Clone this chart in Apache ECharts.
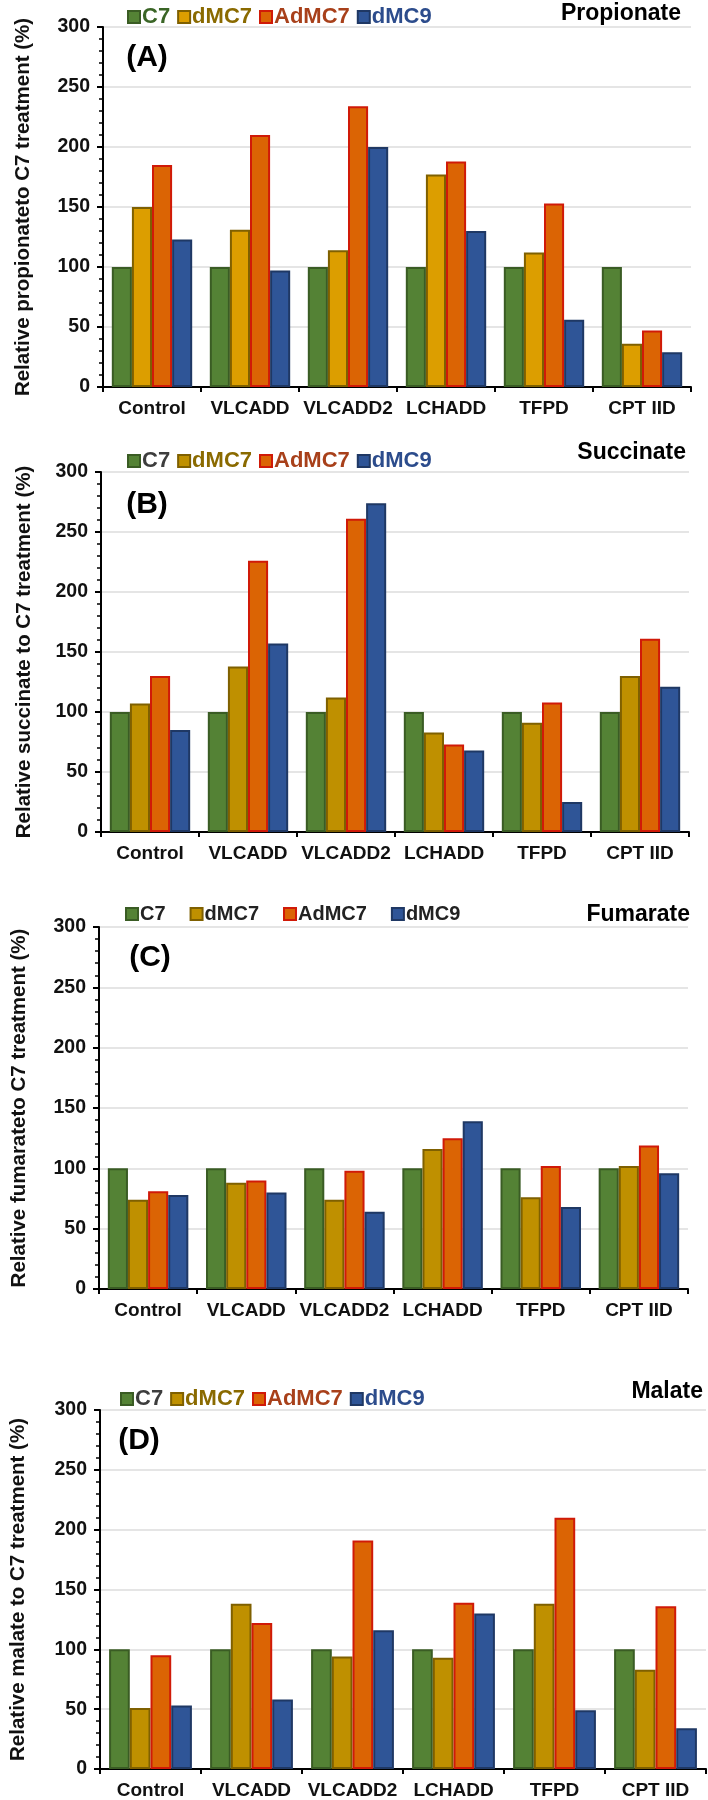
<!DOCTYPE html>
<html>
<head>
<meta charset="utf-8">
<script src="https://cdn.jsdelivr.net/npm/echarts@6/dist/echarts.min.js"></script>
<style>
html,body{margin:0;padding:0;background:#fff;}
#chart{width:708px;height:1800px;}
</style>
</head>
<body>
<div id="chart"></div>
<script>
// ---- data ----
const categories = ['Control', 'VLCADD', 'VLCADD2', 'LCHADD', 'TFPD', 'CPT IID'];
const seriesNames = ['C7', 'dMC7', 'AdMC7', 'dMC9'];
const yTicks = [0, 50, 100, 150, 200, 250, 300];

// (A) Propionate
const propC7    = [100, 100, 100, 100, 100, 100];
const propDMC7  = [150, 131, 114, 177, 112, 36];
const propAdMC7 = [185, 210, 234, 188, 153, 47];
const propDMC9  = [123, 97, 200, 130, 56, 29];

// (B) Succinate
const succC7    = [100, 100, 100, 100, 100, 100];
const succDMC7  = [107, 138, 112, 83, 91, 130];
const succAdMC7 = [130, 226, 261, 73, 108, 161];
const succDMC9  = [85, 157, 274, 68, 25, 121];

// (C) Fumarate
const fumC7    = [100, 100, 100, 100, 100, 100];
const fumDMC7  = [74, 88, 74, 116, 76, 102];
const fumAdMC7 = [81, 90, 98, 125, 102, 119];
const fumDMC9  = [78, 80, 64, 139, 68, 96];

// (D) Malate
const malC7    = [100, 100, 100, 100, 100, 100];
const malDMC7  = [51, 138, 94, 93, 138, 83];
const malAdMC7 = [95, 122, 191, 139, 210, 136];
const malDMC9  = [53, 58, 116, 130, 49, 34];

const panelTitles = ['Propionate', 'Succinate', 'Fumarate', 'Malate'];
const panelLetters = ['(A)', '(B)', '(C)', '(D)'];
const yNames = [
  'Relative propionateto C7 treatment (%)',
  'Relative succinate to C7 treatment (%)',
  'Relative fumarateto C7 treatment (%)',
  'Relative malate to C7 treatment (%)'
];
const panelData = [
  [propC7, propDMC7, propAdMC7, propDMC9],
  [succC7, succDMC7, succAdMC7, succDMC9],
  [fumC7, fumDMC7, fumAdMC7, fumDMC9],
  [malC7, malDMC7, malAdMC7, malDMC9]
];

// ---- styling / layout ----
const FONT = '"Liberation Sans", Arial, Helvetica, sans-serif';
const fills = ['#548235', '#bf9000', '#db6404', '#2f5597'];
const fillsA = ['#548235', '#dc9e00', '#db6404', '#2f5597'];
const borders = ['#3a5c24', '#7f6000', '#d01a08', '#1f3864'];
const legendTextColors = [
  ['#3a6526', '#8a6a00', '#a8401a', '#2c4c8c'],
  ['#3d3d3d', '#8a6a00', '#a8401a', '#2c4c8c'],
  ['#222222', '#222222', '#222222', '#222222'],
  ['#3d3d3d', '#8a6a00', '#a8401a', '#2c4c8c']
];

const grids = [
  {left: 103, top: 27,   width: 588, height: 360},
  {left: 101, top: 472,  width: 588, height: 360},
  {left: 99,  top: 927,  width: 589, height: 362},
  {left: 94,  top: 1410, width: 612, height: 360}
];
const legendPos = [
  {left: 122, top: 1, gap: 7, size: 22},
  {left: 122, top: 445, gap: 7, size: 22},
  {left: 120, top: 899, gap: 24, size: 20},
  {left: 115, top: 1383, gap: 7, size: 22}
];
const titlePos = [
  {x: 681, y: 14}, {x: 686, y: 453}, {x: 690, y: 915}, {x: 703, y: 1392}
];
const letterPos = [
  {x: 147, y: 58}, {x: 147, y: 505}, {x: 150, y: 958}, {x: 139, y: 1441}
];
const nameGaps = [69, 66, 69, 71];

const xAxes = [], yAxes = [], series = [], legends = [], graphics = [];
for (let p = 0; p < 4; p++) {
  xAxes.push({
    type: 'category', gridIndex: p, data: categories,
    axisLine: {lineStyle: {color: '#000', width: 2}},
    axisTick: {show: true, length: 5, lineStyle: {color: '#000', width: 2}},
    axisLabel: {color: '#111', fontFamily: FONT, fontWeight: 'bold', fontSize: 19, margin: 12, interval: 0}
  });
  yAxes.push({
    type: 'value', gridIndex: p, min: 0, max: 300, interval: 50,
    name: yNames[p], nameLocation: 'middle', nameGap: nameGaps[p],
    nameTextStyle: {color: '#111', fontFamily: FONT, fontWeight: 'bold', fontSize: 20.5},
    axisLine: {show: true, lineStyle: {color: '#000', width: 2}},
    axisTick: {show: true, length: 6, lineStyle: {color: '#000', width: 2}},
    minorTick: {show: true, splitNumber: 5, length: 4, lineStyle: {color: '#000', width: 1.5}},
    splitLine: {show: true, lineStyle: {color: '#dcdcdc', width: 1.5}},
    axisLabel: {color: '#111', fontFamily: FONT, fontWeight: 'bold', fontSize: 19.5, margin: 13,
      formatter: v => (yTicks.indexOf(v) >= 0 ? String(v) : '')}
  });
  const fl = p === 0 ? fillsA : fills;
  for (let s = 0; s < 4; s++) {
    series.push({
      type: 'bar', name: seriesNames[s], xAxisIndex: p, yAxisIndex: p,
      data: panelData[p][s], barGap: '0%', barCategoryGap: '18%',
      itemStyle: {color: fl[s], borderColor: borders[s], borderWidth: 2},
      emphasis: {disabled: true}, animation: false
    });
  }
  const lp = legendPos[p];
  legends.push({
    left: lp.left, top: lp.top, itemWidth: 12, itemHeight: 12, itemGap: lp.gap,
    icon: 'rect', selectedMode: false,
    data: seriesNames.map((n, i) => ({
      name: n,
      itemStyle: {color: fl[i], borderColor: borders[i], borderWidth: 2},
      textStyle: {color: legendTextColors[p][i], fontFamily: FONT, fontWeight: 'bold', fontSize: lp.size, padding: [0, 0, 0, -3]}
    }))
  });
  graphics.push({
    type: 'text', x: titlePos[p].x, y: titlePos[p].y,
    style: {text: panelTitles[p], fill: '#000', font: 'bold 23px ' + FONT, textAlign: 'right', textVerticalAlign: 'middle'}
  });
  graphics.push({
    type: 'text', x: letterPos[p].x, y: letterPos[p].y,
    style: {text: panelLetters[p], fill: '#000', font: 'bold 30px ' + FONT, textAlign: 'center', textVerticalAlign: 'middle'}
  });
}

const chart = echarts.init(document.getElementById('chart'), null, {renderer: 'canvas'});
chart.setOption({
  animation: false,
  backgroundColor: '#fff',
  grid: grids,
  xAxis: xAxes,
  yAxis: yAxes,
  legend: legends,
  series: series,
  graphic: graphics
});
</script>
</body>
</html>
